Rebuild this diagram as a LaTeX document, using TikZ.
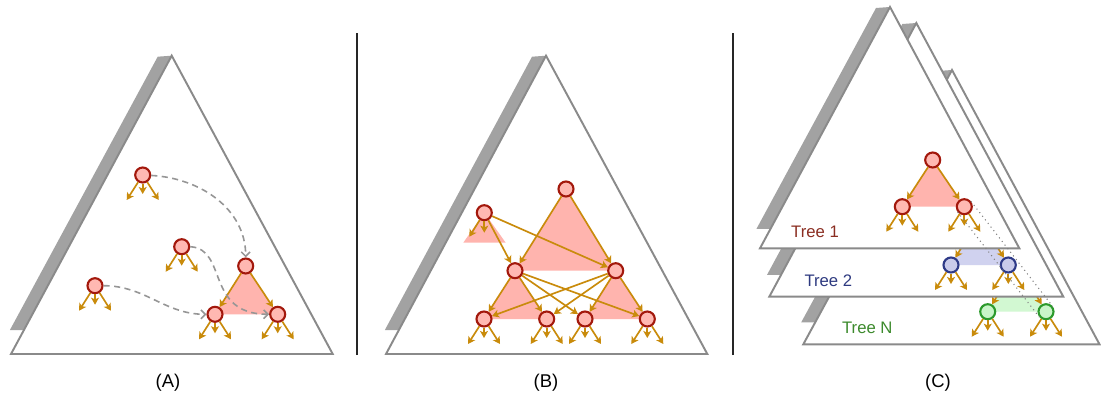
\documentclass[tikz,border=0pt]{standalone}
\usepackage{fontspec}
\setmainfont{Liberation Sans}
\usetikzlibrary{calc, arrows.meta}
\definecolor{NodeRed}{HTML}{A3180C}
\definecolor{NodePink}{HTML}{FFB8B2}
\definecolor{BandPink}{HTML}{FFB4AE}
\definecolor{NodeBlue}{HTML}{2E3A87}
\definecolor{NodeBlueFill}{HTML}{C9CBEA}
\definecolor{BandBlue}{HTML}{D0D2EF}
\definecolor{NodeGreen}{HTML}{2C9A2C}
\definecolor{NodeGreenFill}{HTML}{C9F5C9}
\definecolor{BandGreen}{HTML}{D2F8D2}
\definecolor{EdgeGold}{HTML}{C98B0B}
\definecolor{FlowGray}{HTML}{969696}
\definecolor{TreeGray}{HTML}{8A8A8A}
\definecolor{ShadowGray}{HTML}{A2A2A2}
\definecolor{LabelRed}{HTML}{8B2E22}
\definecolor{LabelBlue}{HTML}{2E3A80}
\definecolor{LabelGreen}{HTML}{3C8A2C}

\tikzset{
  rednode/.style={circle, draw=NodeRed, fill=NodePink, line width=1.2pt, minimum size=0.3cm, inner sep=0pt},
  bluenode/.style={rednode, draw=NodeBlue, fill=NodeBlueFill},
  greennode/.style={rednode, draw=NodeGreen, fill=NodeGreenFill},
  edge/.style={EdgeGold, line width=0.95pt, -{Stealth[length=4pt,width=4.5pt,inset=1pt]}},
  flow/.style={FlowGray, line width=0.9pt, dash pattern=on 3.5pt off 2.5pt, -{Straight Barb[length=2.5pt,width=5pt]}},
  treeline/.style={draw=TreeGray, fill=white, line width=1.1pt},
  treeshadow/.style={fill=ShadowGray},
  sepline/.style={black!85, line width=1pt},
  tie/.style={gray, line width=0.6pt, dotted},
  panellabel/.style={font=\fontsize{10.5}{12}\selectfont},
  treelabel/.style={font=\fontsize{9.5}{11}\selectfont},
}

% big tree outline with its shadow: apex, base left, base right
\newcommand{\bigtri}[3]{%
  \coordinate (ap) at (#1); \coordinate (bl) at (#2); \coordinate (br) at (#3);
  \fill[treeshadow] ($(ap)+(-14,-1)$) -- (ap) -- ($(bl)!0.08!(ap)$) -- ($(bl)!0.08!(ap)+(-14,0)$) -- cycle;
  \draw[treeline] (ap) -- (bl) -- (br) -- cycle;
}

% short child pointers below a node
\newcommand{\kids}[2][l/-16/-25,m/0/-19,r/16/-25]{%
  \foreach \k/\dx/\dy in {#1} {
    \coordinate (#2-\k) at ($(#2)+(\dx,\dy)$);
    \draw[edge] (#2) -- (#2-\k);
  }
}

\begin{document}
\begin{tikzpicture}[x=0.02cm, y=0.02cm]
  \useasboundingbox (0,0) rectangle (1101,399);

  % separators
  \draw[sepline] (357,44) -- (357,366);
  \draw[sepline] (733,44) -- (733,366);

  % ---------- (A)
  \bigtri{171.7,343.3}{11,45}{332.7,45}
  \coordinate (pa1) at (245.7,133);
  \coordinate (pa2) at (215,84.7);
  \coordinate (pa3) at (277.7,84.7);
  \fill[BandPink] (pa1) -- (pa2) -- (pa3) -- cycle;

  \node[rednode] (aTop) at (142.7,224) {};
  \node[rednode] (aMid) at (181.7,152.3) {};
  \node[rednode] (aLow) at (95,113.3) {};
  \node[rednode] (aRoot) at (pa1) {};
  \node[rednode] (aLeft) at (pa2) {};
  \node[rednode] (aRight) at (pa3) {};

  \draw[edge] (aRoot) -- (aLeft);
  \draw[edge] (aRoot) -- (aRight);
  \foreach \n in {aTop, aMid, aLow, aLeft, aRight} {\kids{\n}}

  \draw[flow] (aTop) to[out=-3, in=90] (aRoot);
  \draw[flow] (aMid.east) .. controls (228,150) and (205,85) .. (aRight.west);
  \draw[flow] (aLow) to[out=0, in=180] (aLeft);

  \node[panellabel] (labA) at (168,16) {(A)};

  % ---------- (B)
  \bigtri{546,343.3}{386,45}{707.3,45}
  \coordinate (pb0) at (566,210);
  \coordinate (pb1) at (515,128.3);
  \coordinate (pb2) at (615.7,128.3);
  \coordinate (pb3) at (484,80);
  \coordinate (pb4) at (546.7,80);
  \coordinate (pb5) at (585,80);
  \coordinate (pb6) at (647.3,80);
  \coordinate (pbs) at (484.3,186.3);
  \fill[BandPink] (pb0) -- (pb1) -- (pb2) -- cycle;
  \fill[BandPink] (pb1) -- (pb3) -- (pb4) -- cycle;
  \fill[BandPink] (pb2) -- (pb5) -- (pb6) -- cycle;
  \fill[BandPink] (pbs) -- (463.3,156.3) -- (505.7,156.3) -- cycle;

  \node[rednode] (bTop) at (pb0) {};
  \node[rednode] (bSide) at (pbs) {};
  \node[rednode] (bM1) at (pb1) {};
  \node[rednode] (bM2) at (pb2) {};
  \node[rednode] (bL1) at (pb3) {};
  \node[rednode] (bL2) at (pb4) {};
  \node[rednode] (bL3) at (pb5) {};
  \node[rednode] (bL4) at (pb6) {};

  \draw[edge] (bTop) -- (bM1);
  \draw[edge] (bTop) -- (bM2);
  \draw[edge] (bSide) -- (bM1);
  \draw[edge] (bSide) -- (bM2);
  \foreach \m in {bM1, bM2} {
    \foreach \l in {bL1, bL2, bL3, bL4} {
      \draw[edge] (\m) -- (\l);
    }
  }
  \kids[l/-15/-24,m/0/-20]{bSide}
  \foreach \n in {bL1, bL2, bL3, bL4} {\kids{\n}}

  \node[panellabel] (labB) at (546,16) {(B)};

  % ---------- (C)
  % Tree N (back)
  \bigtri{952,329}{803.3,54.7}{1099.5,54.7}
  \coordinate (tNtop) at (1016.8,136);
  \coordinate (pn1) at (987.7,87.3);
  \coordinate (pn2) at (1046,87.3);
  \fill[BandGreen] (tNtop) -- (pn1) -- (pn2) -- cycle;
  \node[greennode] (tNleft) at (pn1) {};
  \node[greennode] (tNright) at (pn2) {};
  \draw[edge] (tNtop) -- (tNleft);
  \draw[edge] (tNtop) -- (tNright);
  \kids{tNleft}
  \kids{tNright}
  \node[treelabel, text=LabelGreen] (labN) at (867.3,70.7) {Tree N};

  % Tree 2
  \bigtri{916.3,376}{769.3,102.3}{1063.3,102.3}
  \coordinate (t2top) at (979.5,181.5);
  \coordinate (p21) at (951,134);
  \coordinate (p22) at (1008.3,134);
  \fill[BandBlue] (t2top) -- (p21) -- (p22) -- cycle;
  \node[bluenode] (t2left) at (p21) {};
  \node[bluenode] (t2right) at (p22) {};
  \draw[edge] (t2top) -- (t2left);
  \draw[edge] (t2top) -- (t2right);
  \kids{t2left}
  \kids{t2right}
  \node[treelabel, text=LabelBlue] (lab2) at (828.3,118) {Tree 2};

  % Tree 1 (front)
  \bigtri{890,392}{760,150.7}{1019.3,150.7}
  \coordinate (p10) at (932.7,239);
  \coordinate (p11) at (902.3,192.3);
  \coordinate (p12) at (964.3,192.3);
  \fill[BandPink] (p10) -- (p11) -- (p12) -- cycle;
  \node[rednode] (t1root) at (p10) {};
  \node[rednode] (t1left) at (p11) {};
  \node[rednode] (t1right) at (p12) {};
  \draw[edge] (t1root) -- (t1left);
  \draw[edge] (t1root) -- (t1right);
  \kids{t1left}
  \kids{t1right}
  \node[treelabel, text=LabelRed] (lab1) at (815,167.3) {Tree 1};

  % same node across the trees
  \draw[tie] (t1right.38) -- (tNright.38);
  \draw[tie] (t1right.218) -- (tNright.218);

  \node[panellabel] (labC) at (938,16) {(C)};
\end{tikzpicture}
\end{document}
